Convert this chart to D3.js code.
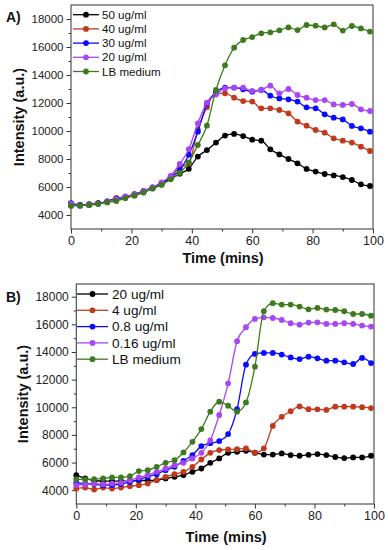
<!DOCTYPE html>
<html><head><meta charset="utf-8">
<script src="https://cdn.jsdelivr.net/npm/d3@7"></script>
<style>
body{margin:0;background:#fff;}
svg{display:block;font-family:"Liberation Sans",Arial,sans-serif;}
</style></head>
<body>
<svg id="chart" width="388" height="550"></svg>
<script>
// ---- data ----
const timeMins = d3.range(0, 100, 3); // 0..99
const xTicks = [0, 20, 40, 60, 80, 100];
const yTicks = [4000, 6000, 8000, 10000, 12000, 14000, 16000, 18000];

const labelsA = ["50 ug/ml", "40 ug/ml", "30 ug/ml", "20 ug/ml", "LB medium"];
const colorsA = ["#000000", "#c0391c", "#0a0aff", "#a845f5", "#3d7a1e"];
const a50 = [4750,4700,4780,4850,4980,5200,5280,5400,5650,5900,6200,6600,6950,7300,8170,8640,9170,9670,9790,9640,9380,9310,8690,8330,8000,7690,7290,7100,6930,6830,6710,6500,6190,6070];
const a40 = [4700,4680,4750,4820,4950,5100,5300,5500,5700,5950,6300,6750,7400,7700,10100,11700,12700,12690,12380,12140,12100,11620,11620,11500,11260,10670,10380,10070,9880,9480,9310,9170,8880,8570];
const a30 = [4850,4720,4740,4820,4950,5100,5300,5450,5700,5970,6300,6700,7200,8300,9950,11950,12760,13100,13100,12980,12810,12930,12520,12330,12260,12100,11690,11620,11190,10950,10830,10360,10190,9950];
const a20 = [4800,4650,4750,4800,4930,5150,5320,5450,5680,5980,6320,6800,7650,8700,10550,12020,12600,13050,13100,13100,12860,12930,13240,12690,13000,12570,12380,12210,12210,11900,11860,11930,11550,11430];
const aLB = [4650,4680,4700,4780,4900,5000,5200,5400,5600,5900,6150,6550,7000,7760,9000,10380,12930,14690,15950,16500,16710,16980,17050,17190,17400,17210,17570,17520,17400,17620,17170,17500,17330,17100];

const labelsB = ["20 ug/ml", "4 ug/ml", "0.8 ug/ml", "0.16 ug/ml", "LB medium"];
const colorsB = ["#000000", "#c0391c", "#0a0aff", "#a845f5", "#3d7a1e"];
const b20 = [5090,4850,4700,4650,4650,4650,4650,4700,4700,4730,4850,4970,5090,5330,5570,5980,6300,6700,6780,6850,6710,6580,6580,6660,6540,6490,6560,6610,6540,6400,6320,6370,6370,6490];
const b4 = [4120,4190,4050,4190,4120,4190,4290,4360,4480,4730,4970,5160,5330,5690,6220,6700,6900,6950,6970,7020,6710,7030,8650,9310,9710,10060,9860,9850,9810,10040,10040,10040,10010,9940];
const b08 = [4530,4480,4440,4360,4360,4440,4600,4770,4970,5160,5450,5690,6120,6540,7190,7400,7550,8060,9870,13080,13860,13930,13930,13810,13610,13490,13660,13540,13370,13370,13250,13130,13570,13200];
const b016 = [4360,4410,4480,4430,4480,4530,4720,4920,5090,5330,5570,5810,5980,6300,6700,7600,9440,11730,14780,15790,16390,16510,16460,16320,16080,15980,16130,16150,16030,16030,16080,16030,15910,15840];
const bLB = [4800,4780,4800,4850,4920,4920,5010,5380,5450,5690,5980,6170,6730,7500,8420,9680,10400,10110,9680,10350,12940,16950,17530,17430,17430,17290,17090,17190,17070,17040,16950,16750,16750,16630];

const svg = d3.select("#chart");

function panel(cfg) {
  const {left, right, top, bottom, yMax, series, labels, colors, tag, tagPos,
         legend, yFont, xFont, titleY, yTitleX} = cfg;
  const x = d3.scaleLinear().domain([0, 100]).range([left, right]);
  const y = d3.scaleLinear().domain([3000, yMax]).range([bottom, top]);
  const g = svg.append("g");

  // minor ticks
  g.append("g").attr("transform", `translate(0,${bottom})`)
    .call(d3.axisBottom(x).tickValues([10,30,50,70,90]).tickSize(2.5).tickFormat(""))
    .call(s => s.select(".domain").remove())
    .call(s => s.selectAll("line").attr("stroke", "#333"));
  g.append("g").attr("transform", `translate(${left},0)`)
    .call(d3.axisLeft(y).tickValues([5000,7000,9000,11000,13000,15000,17000]).tickSize(2.5).tickFormat(""))
    .call(s => s.select(".domain").remove())
    .call(s => s.selectAll("line").attr("stroke", "#333"));

  // major axes
  g.append("g").attr("transform", `translate(0,${bottom})`)
    .call(d3.axisBottom(x).tickValues(xTicks).tickSize(4.5).tickSizeOuter(0).tickPadding(3))
    .call(s => s.select(".domain").remove())
    .call(s => s.selectAll("line").attr("stroke", "#333"))
    .call(s => s.selectAll("text").attr("font-size", xFont).attr("fill", "#222")
      .attr("font-family", "Liberation Sans, Arial, sans-serif"));
  g.append("g").attr("transform", `translate(${left},0)`)
    .call(d3.axisLeft(y).tickValues(yTicks).tickSize(4.5).tickSizeOuter(0).tickPadding(3).tickFormat(d3.format("d")))
    .call(s => s.select(".domain").remove())
    .call(s => s.selectAll("line").attr("stroke", "#333"))
    .call(s => s.selectAll("text").attr("font-size", yFont).attr("fill", "#222")
      .attr("font-family", "Liberation Sans, Arial, sans-serif"));

  // frame
  g.append("rect").attr("x", left).attr("y", top)
    .attr("width", right - left).attr("height", bottom - top)
    .attr("fill", "none").attr("stroke", "#444").attr("stroke-width", 1.1);

  const line = d3.line().x((d, i) => x(timeMins[i])).y(d => y(d)).curve(d3.curveMonotoneX);
  series.forEach((vals, k) => {
    g.append("path").datum(vals).attr("d", line)
      .attr("fill", "none").attr("stroke", colors[k]).attr("stroke-width", 1.3);
    g.append("g").selectAll("circle").data(vals).join("circle")
      .attr("cx", (d, i) => x(timeMins[i])).attr("cy", d => y(d))
      .attr("r", 2.9).attr("fill", colors[k]);
  });

  // legend
  labels.forEach((lab, k) => {
    const ly = legend.y0 + k * legend.dy;
    g.append("line").attr("x1", legend.x1).attr("x2", legend.x2)
      .attr("y1", ly).attr("y2", ly).attr("stroke", colors[k]).attr("stroke-width", 1.3);
    g.append("circle").attr("cx", (legend.x1 + legend.x2) / 2).attr("cy", ly)
      .attr("r", 2.9).attr("fill", colors[k]);
    g.append("text").attr("x", legend.tx).attr("y", ly).attr("dy", "0.35em")
      .attr("font-size", legend.fs).attr("fill", "#111").text(lab);
  });

  // titles
  g.append("text").attr("x", (left + right) / 2 + 1).attr("y", titleY)
    .attr("text-anchor", "middle").attr("font-weight", "bold").attr("font-size", 14.5)
    .attr("fill", "#111").text("Time (mins)");
  g.append("text").attr("transform", `translate(${yTitleX},${(top + bottom) / 2}) rotate(-90)`)
    .attr("text-anchor", "middle").attr("font-weight", "bold").attr("font-size", 14.5)
    .attr("fill", "#111").text("Intensity (a.u.)");
  g.append("text").attr("x", tagPos[0]).attr("y", tagPos[1])
    .attr("font-weight", "bold").attr("font-size", 14).attr("fill", "#111").text(tag);
}

panel({
  left: 71, right: 373, top: 5, bottom: 229, yMax: 19000,
  series: [a50, a40, a30, a20, aLB], labels: labelsA, colors: colorsA,
  tag: "A)", tagPos: [6, 22],
  legend: {x1: 73, x2: 99, tx: 102, y0: 14.7, dy: 14.2, fs: 11.6},
  yFont: 11.5, xFont: 12.5, titleY: 263, yTitleX: 24
});

panel({
  left: 76.3, right: 374, top: 284, bottom: 504, yMax: 18920,
  series: [b20, b4, b08, b016, bLB], labels: labelsB, colors: colorsB,
  tag: "B)", tagPos: [6, 302],
  legend: {x1: 77, x2: 108, tx: 112, y0: 294, dy: 16.3, fs: 13.6},
  yFont: 12, xFont: 12.5, titleY: 542, yTitleX: 28
});
</script>
</body></html>
